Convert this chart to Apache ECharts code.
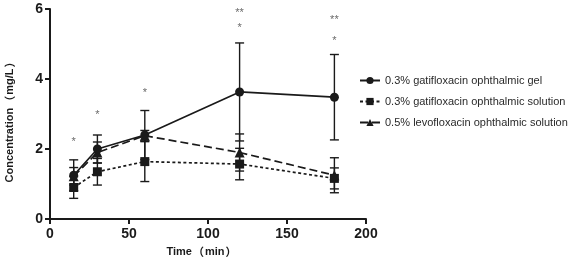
<!DOCTYPE html>
<html>
<head>
<meta charset="utf-8">
<script src="https://cdn.jsdelivr.net/npm/echarts@6/dist/echarts.min.js"></script>
<style>
  html, body { margin: 0; padding: 0; background: #fff; }
  #chart { width: 572px; height: 259px; }
</style>
</head>
<body>
<div id="chart"></div>
<script>
// sampling times (min)
const times = [15, 30, 60, 120, 180];

// mean and SD (mg/L) for each formulation
const gelMean = [1.25, 2.0, 2.4, 3.63, 3.48];
const gelSd = [0.44, 0.4, 0.7, 1.4, 1.22];
const gatiMean = [0.9, 1.35, 1.64, 1.57, 1.16];
const gatiSd = [0.31, 0.38, 0.57, 0.45, 0.3];
const levoMean = [1.22, 1.9, 2.38, 1.9, 1.25];
const levoSd = [0.25, 0.3, 0.15, 0.53, 0.5];

// significance marks
const starX = [15, 30, 60, 120, 120, 180, 180];
const starY = [2.2, 2.97, 3.59, 5.45, 5.9, 5.1, 5.7];
const starText = ["*", "*", "*", "*", "**", "*", "**"];

const seriesNames = [
  "0.3% gatifloxacin ophthalmic gel",
  "0.3% gatifloxacin ophthalmic solution",
  "0.5% levofloxacin ophthalmic solution"
];

const fontFamily = "Arial, 'Liberation Sans', sans-serif";
const cjkFont = "'Noto Sans CJK SC', sans-serif";
const ink = "#1a1a1a";

function pairs(ys) {
  return times.map((t, i) => [t, ys[i]]);
}
function bars(mean, sd) {
  return times.map((t, i) => [t, mean[i] - sd[i], mean[i] + sd[i]]);
}

function renderErrorBar(params, api) {
  const low = api.coord([api.value(0), api.value(1)]);
  const high = api.coord([api.value(0), api.value(2)]);
  const half = 4.5;
  const style = { stroke: ink, lineWidth: 1.4, fill: null };
  return {
    type: "group",
    children: [
      { type: "line", shape: { x1: high[0], y1: high[1], x2: low[0], y2: low[1] }, style: style },
      { type: "line", shape: { x1: high[0] - half, y1: high[1], x2: high[0] + half, y2: high[1] }, style: style },
      { type: "line", shape: { x1: low[0] - half, y1: low[1], x2: low[0] + half, y2: low[1] }, style: style }
    ]
  };
}

function errorSeries(mean, sd) {
  return {
    type: "custom",
    renderItem: renderErrorBar,
    data: bars(mean, sd),
    encode: { x: 0, y: [1, 2] },
    silent: true,
    z: 1
  };
}

const chart = echarts.init(document.getElementById("chart"));

const axisLine = { lineStyle: { color: ink, width: 2 } };
const axisTick = { length: 5, lineStyle: { color: ink, width: 2 } };
const axisLabel = { fontSize: 14, fontWeight: "bold", color: ink, fontFamily: fontFamily };
const paren = { fontSize: 11, fontWeight: "bold", color: ink, fontFamily: cjkFont, padding: [0, 1] };
const nameTextStyle = {
  fontSize: 11,
  fontWeight: "bold",
  color: ink,
  fontFamily: fontFamily,
  rich: { p: paren }
};

chart.setOption({
  backgroundColor: "#fff",
  animation: false,
  grid: { left: 50, top: 9, width: 316, height: 210, outerBoundsMode: "none", containLabel: false },
  legend: {
    orient: "vertical",
    left: 354,
    top: 70,
    itemWidth: 20,
    itemHeight: 9,
    itemGap: 10,
    data: seriesNames,
    textStyle: { fontSize: 11, color: "#2a2a2a", fontFamily: fontFamily }
  },
  xAxis: {
    type: "value",
    min: 0,
    max: 200,
    interval: 50,
    name: "Time{p|（}min{p|）}",
    nameLocation: "middle",
    nameGap: 27,
    nameTextStyle: Object.assign({ padding: [0, 12, 0, 0] }, nameTextStyle),
    axisLine: axisLine,
    axisTick: axisTick,
    axisLabel: Object.assign({ margin: 8 }, axisLabel),
    splitLine: { show: false }
  },
  yAxis: {
    type: "value",
    min: 0,
    max: 6,
    interval: 2,
    name: "Concentration{p|（}mg/L{p|）}",
    nameLocation: "middle",
    nameGap: 35,
    nameTextStyle: Object.assign({ padding: [0, 10, 0, 0] }, nameTextStyle),
    axisLine: Object.assign({ show: true }, axisLine),
    axisTick: Object.assign({ show: true }, axisTick),
    axisLabel: Object.assign({ margin: 7 }, axisLabel),
    splitLine: { show: false }
  },
  series: [
    errorSeries(gelMean, gelSd),
    errorSeries(gatiMean, gatiSd),
    errorSeries(levoMean, levoSd),
    {
      name: seriesNames[0],
      type: "line",
      data: pairs(gelMean),
      symbol: "circle",
      symbolSize: 9,
      itemStyle: { color: ink },
      lineStyle: { color: ink, width: 1.7 },
      z: 3
    },
    {
      name: seriesNames[1],
      type: "line",
      data: pairs(gatiMean),
      symbol: "rect",
      symbolSize: 9,
      itemStyle: { color: ink },
      lineStyle: { color: ink, width: 1.7, type: [3, 2.5] },
      z: 3
    },
    {
      name: seriesNames[2],
      type: "line",
      data: pairs(levoMean),
      symbol: "triangle",
      symbolSize: 10,
      itemStyle: { color: ink },
      lineStyle: { color: ink, width: 1.7, type: [8, 4] },
      z: 2
    },
    {
      type: "scatter",
      data: starX.map((x, i) => [x, starY[i], starText[i]]),
      symbolSize: 0,
      silent: true,
      label: {
        show: true,
        position: "inside",
        formatter: (p) => p.value[2],
        fontSize: 11,
        color: "#444",
        fontFamily: fontFamily
      }
    }
  ]
});
</script>
</body>
</html>
